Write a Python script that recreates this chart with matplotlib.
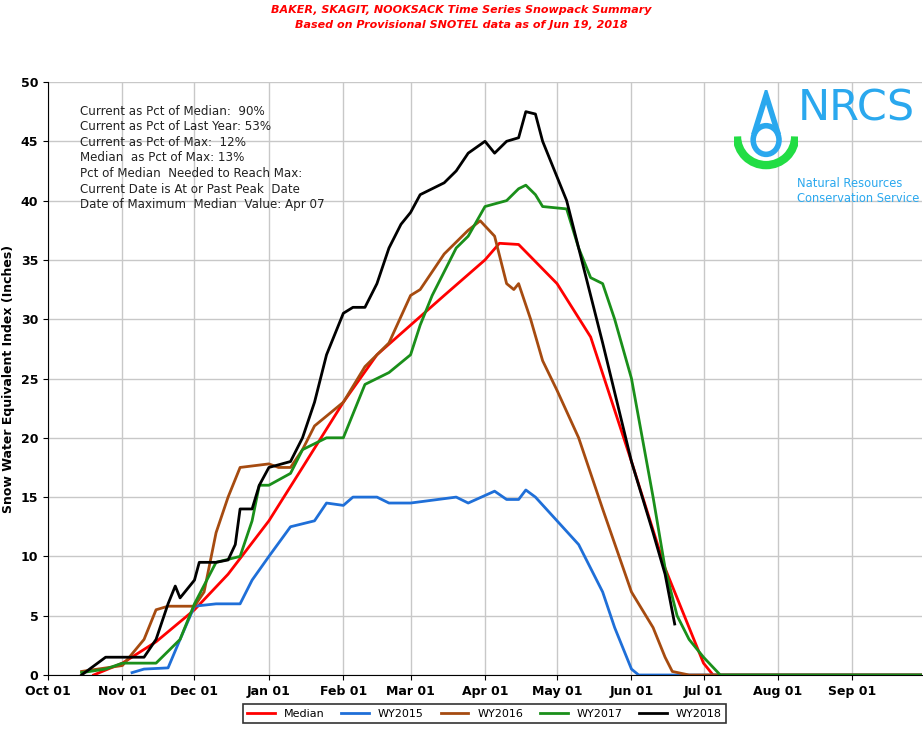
import matplotlib
matplotlib.use("Agg")
import matplotlib.pyplot as plt
import matplotlib.dates as mdates
from matplotlib.patches import Arc, Ellipse, Polygon
from datetime import date

def d(s):
    m, dd = map(int, s.split("-"))
    return date(2017 if m >= 10 else 2018, m, dd)

median = [("10-20", 0), ("11-01", 1), ("11-15", 2.8), ("12-01", 5.5), ("12-15", 8.5), ("01-01", 13),
          ("01-15", 17.5), ("02-01", 23), ("02-15", 27), ("03-01", 29.5), ("03-15", 32), ("04-01", 35),
          ("04-07", 36.4), ("04-15", 36.3), ("05-01", 33), ("05-15", 28.5), ("06-01", 18), ("06-15", 9),
          ("06-25", 4), ("07-01", 1), ("07-05", 0), ("09-30", 0)]
wy2015 = [("11-05", 0.2), ("11-10", 0.5), ("11-20", 0.6), ("11-25", 3), ("12-01", 5.8), ("12-10", 6),
          ("12-20", 6), ("12-25", 8), ("01-01", 10), ("01-10", 12.5), ("01-20", 13), ("01-25", 14.5),
          ("02-01", 14.3), ("02-05", 15), ("02-15", 15), ("02-20", 14.5), ("03-01", 14.5), ("03-20", 15),
          ("03-25", 14.5), ("04-05", 15.5), ("04-10", 14.8), ("04-15", 14.8), ("04-18", 15.6),
          ("04-22", 15), ("05-01", 13), ("05-10", 11), ("05-20", 7), ("05-25", 4), ("06-01", 0.5),
          ("06-04", 0), ("09-30", 0)]
wy2016 = [("10-15", 0.3), ("11-01", 0.8), ("11-10", 3), ("11-15", 5.5), ("11-20", 5.8), ("12-01", 5.8),
          ("12-05", 7), ("12-10", 12), ("12-15", 15), ("12-20", 17.5), ("01-01", 17.8), ("01-05", 17.5),
          ("01-10", 17.5), ("01-15", 19), ("01-20", 21), ("02-01", 23), ("02-10", 26), ("02-15", 27),
          ("02-20", 28), ("03-01", 32), ("03-05", 32.5), ("03-10", 34), ("03-15", 35.5), ("03-20", 36.5),
          ("03-25", 37.5), ("03-30", 38.3), ("04-05", 37), ("04-10", 33), ("04-13", 32.5), ("04-15", 33),
          ("04-20", 30), ("04-25", 26.5), ("05-01", 24), ("05-10", 20), ("05-20", 14), ("06-01", 7),
          ("06-10", 4), ("06-15", 1.5), ("06-18", 0.3), ("06-25", 0), ("09-30", 0)]
wy2017 = [("10-15", 0.2), ("10-25", 0.5), ("11-01", 1), ("11-15", 1), ("11-20", 2), ("11-25", 3),
          ("12-01", 6), ("12-10", 9.5), ("12-20", 10), ("12-25", 13), ("12-28", 16), ("01-01", 16),
          ("01-10", 17), ("01-15", 19), ("01-20", 19.5), ("01-25", 20), ("02-01", 20), ("02-05", 22),
          ("02-10", 24.5), ("02-15", 25), ("02-20", 25.5), ("03-01", 27), ("03-05", 29.5), ("03-10", 32),
          ("03-15", 34), ("03-20", 36), ("03-25", 37), ("04-01", 39.5), ("04-10", 40), ("04-15", 41),
          ("04-18", 41.3), ("04-22", 40.5), ("04-25", 39.5), ("05-05", 39.3), ("05-10", 36),
          ("05-15", 33.5), ("05-20", 33), ("05-25", 30), ("06-01", 25), ("06-10", 15), ("06-15", 9),
          ("06-20", 5), ("06-25", 3), ("07-01", 1.5), ("07-08", 0), ("09-30", 0)]
wy2018 = [("10-15", 0), ("10-25", 1.5), ("11-01", 1.5), ("11-10", 1.5), ("11-15", 3), ("11-20", 6),
          ("11-23", 7.5), ("11-25", 6.5), ("12-01", 8), ("12-03", 9.5), ("12-10", 9.5), ("12-15", 9.7),
          ("12-18", 11), ("12-20", 14), ("12-25", 14), ("12-28", 16), ("01-01", 17.5), ("01-10", 18),
          ("01-15", 20), ("01-20", 23), ("01-25", 27), ("02-01", 30.5), ("02-05", 31), ("02-10", 31),
          ("02-15", 33), ("02-20", 36), ("02-25", 38), ("03-01", 39), ("03-05", 40.5), ("03-10", 41),
          ("03-15", 41.5), ("03-20", 42.5), ("03-25", 44), ("04-01", 45), ("04-05", 44), ("04-10", 45),
          ("04-15", 45.3), ("04-18", 47.5), ("04-22", 47.3), ("04-25", 45), ("05-01", 42), ("05-05", 40),
          ("05-10", 36), ("05-15", 32), ("05-20", 28), ("06-01", 18), ("06-10", 12), ("06-15", 8.5),
          ("06-19", 4.3)]

series = [("Median", median, "#ff0000"), ("WY2015", wy2015, "#1f6fd8"), ("WY2016", wy2016, "#a64b10"),
          ("WY2017", wy2017, "#1a8f1a"), ("WY2018", wy2018, "#000000")]

stats = ["Current as Pct of Median:  90%", "Current as Pct of Last Year: 53%", "Current as Pct of Max:  12%",
         "Median  as Pct of Max: 13%", "Pct of Median  Needed to Reach Max:",
         "Current Date is At or Past Peak  Date", "Date of Maximum  Median  Value: Apr 07"]

fig = plt.figure(figsize=(9.23, 7.49), dpi=100)
ax = fig.add_axes([48/923, 74/749, 874/923, 593/749])
for name, pts, c in series:
    ax.plot([d(p[0]) for p in pts], [p[1] for p in pts], color=c, lw=2, label=name)

ax.set_xlim(date(2017, 10, 1), date(2018, 9, 30))
ax.set_ylim(0, 50)
ax.set_yticks(range(0, 51, 5))
ax.xaxis.set_major_locator(mdates.MonthLocator())
ax.xaxis.set_major_formatter(mdates.DateFormatter("%b %d"))
ax.grid(True, color="#c8c8c8", lw=1)
ax.set_axisbelow(True)
for s in ["top", "right"]:
    ax.spines[s].set_visible(False)
ax.tick_params(labelsize=9)
for lab in ax.get_xticklabels() + ax.get_yticklabels():
    lab.set_fontweight("bold")
ax.set_ylabel("Snow Water Equivalent Index (Inches)", fontsize=9, fontweight="bold")

ax.text(0.037, 0.962, "\n".join(stats), transform=ax.transAxes, va="top", fontsize=8.6,
        linespacing=1.26, color="#222222")

fig.text(0.5, 0.993, "BAKER, SKAGIT, NOOKSACK Time Series Snowpack Summary", color="red",
         style="italic", fontweight="bold", ha="center", va="top", fontsize=8)
fig.text(0.5, 0.973, "Based on Provisional SNOTEL data as of Jun 19, 2018", color="red",
         style="italic", fontweight="bold", ha="center", va="top", fontsize=8)

# logo
fig.text(0.864, 0.855, "NRCS", color="#2aa8ee", fontsize=31, ha="left", va="center")
fig.text(0.864, 0.745, "Natural Resources\nConservation Service", color="#2aa8ee", fontsize=8.3,
         ha="left", va="center", linespacing=1.25)
la = fig.add_axes([0.795, 0.77, 0.07, 0.11])
la.set_xlim(-1, 1); la.set_ylim(-1, 1.3); la.axis("off")
la.add_patch(Arc((0, 0.0), 1.8, 1.6, theta1=180, theta2=360, color="#22dd44", lw=6))
la.add_patch(Ellipse((0, -0.1), 0.8, 0.8, fill=False, ec="#2aa8ee", lw=4))
la.add_patch(Polygon([(-0.38, 0.05), (0, 1.15), (0.38, 0.05)], fill=False, ec="#2aa8ee", lw=4,
                     closed=False))

leg = fig.legend(loc="center", bbox_to_anchor=(0.525, 0.047), ncol=5, fontsize=8, frameon=True,
                 fancybox=False, edgecolor="black", handlelength=2.5, columnspacing=1.5)
leg.get_frame().set_linewidth(1.2)
fig.savefig("out.png", dpi=100)
